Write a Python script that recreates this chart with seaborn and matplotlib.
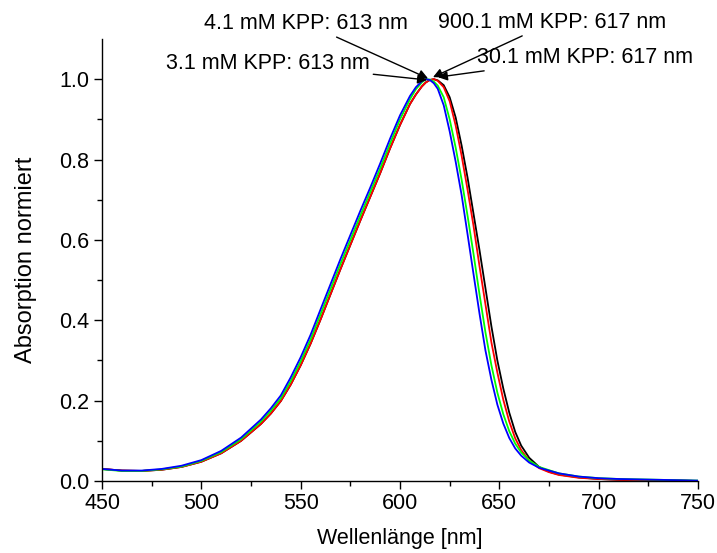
import numpy as np
import pandas as pd
import matplotlib
matplotlib.use("Agg")
import matplotlib.pyplot as plt
import seaborn as sns

wavelength = [450, 460, 470, 480, 490, 500, 510, 520, 530, 535, 540, 545, 550, 555, 560, 570,
              580, 585, 590, 595, 600, 605, 608, 611, 613, 615, 617, 619, 622, 625, 628,
              631, 634, 637, 640, 643, 646, 649, 652, 655, 658, 661, 665, 670, 675,
              680, 690, 700, 710, 720, 730, 740, 750]

abs_900_1 = [0.030, 0.026, 0.025, 0.028, 0.035, 0.048, 0.069, 0.100, 0.142, 0.168, 0.199,
             0.240, 0.288, 0.342, 0.402, 0.527, 0.648, 0.707, 0.766, 0.828, 0.886, 0.938,
             0.962, 0.982, 0.992, 0.998, 1.000, 0.997, 0.985, 0.955, 0.905, 0.835, 0.755,
             0.665, 0.575, 0.480, 0.385, 0.300, 0.230, 0.170, 0.122, 0.088, 0.058, 0.035,
             0.023, 0.016, 0.009, 0.005, 0.003, 0.002, 0.001, 0.001, 0.000]
abs_30_1 = [0.030, 0.026, 0.025, 0.028, 0.035, 0.048, 0.069, 0.100, 0.142, 0.168, 0.199,
            0.240, 0.288, 0.342, 0.402, 0.527, 0.648, 0.707, 0.766, 0.828, 0.886, 0.938,
            0.962, 0.982, 0.992, 0.998, 1.000, 0.996, 0.980, 0.945, 0.885, 0.810, 0.725,
            0.635, 0.535, 0.440, 0.345, 0.270, 0.202, 0.148, 0.106, 0.077, 0.051, 0.032,
            0.022, 0.015, 0.008, 0.005, 0.003, 0.002, 0.001, 0.001, 0.000]
abs_4_1 = [0.029, 0.025, 0.025, 0.029, 0.036, 0.050, 0.072, 0.104, 0.148, 0.175, 0.206,
           0.249, 0.298, 0.353, 0.415, 0.540, 0.660, 0.719, 0.778, 0.840, 0.900, 0.950,
           0.975, 0.992, 1.000, 0.999, 0.994, 0.984, 0.955, 0.900, 0.830, 0.750, 0.660,
           0.565, 0.465, 0.370, 0.288, 0.220, 0.166, 0.124, 0.093, 0.071, 0.051, 0.035,
           0.027, 0.019, 0.011, 0.007, 0.005, 0.004, 0.003, 0.002, 0.001]
abs_3_1 = [0.030, 0.026, 0.026, 0.030, 0.038, 0.052, 0.075, 0.108, 0.153, 0.181, 0.213,
           0.258, 0.308, 0.364, 0.427, 0.552, 0.672, 0.730, 0.790, 0.852, 0.910, 0.958,
           0.980, 0.995, 1.000, 0.998, 0.990, 0.976, 0.935, 0.870, 0.795, 0.712, 0.614,
           0.515, 0.417, 0.325, 0.252, 0.190, 0.143, 0.107, 0.081, 0.063, 0.046, 0.033,
           0.026, 0.019, 0.011, 0.007, 0.005, 0.004, 0.003, 0.002, 0.001]

series_names = ["900.1 mM KPP", "30.1 mM KPP", "4.1 mM KPP", "3.1 mM KPP"]
series_colors = ["black", "red", "#00ff00", "blue"]

frames = []
for name, vals in zip(series_names, [abs_900_1, abs_30_1, abs_4_1, abs_3_1]):
    frames.append(pd.DataFrame({"wl": wavelength, "A": vals, "series": name}))
df = pd.concat(frames, ignore_index=True)

sns.set_theme(style="ticks")
plt.rcParams['font.family'] = ['Liberation Sans', 'DejaVu Sans']
plt.rcParams['text.color'] = 'black'
plt.rcParams['axes.labelcolor'] = 'black'
plt.rcParams['xtick.color'] = 'black'
plt.rcParams['ytick.color'] = 'black'

fig = plt.figure(figsize=(7.17, 5.53), dpi=100)
ax = fig.add_axes([0.1423, 0.1302, 0.8312, 0.7993])

sns.lineplot(data=df, x="wl", y="A", hue="series", hue_order=series_names,
             palette=series_colors, linewidth=1.3, legend=False, ax=ax, sort=False)

ax.set_xlim(450, 750)
ax.set_ylim(0, 1.1)
ax.set_xticks([450, 500, 550, 600, 650, 700, 750])
ax.set_xticks(np.arange(475, 750, 50), minor=True)
ax.set_yticks([0.0, 0.2, 0.4, 0.6, 0.8, 1.0])
ax.set_yticks([0.1, 0.3, 0.5, 0.7, 0.9], minor=True)
ax.set_yticklabels(["0.0", "0.2", "0.4", "0.6", "0.8", "1.0"])
ax.tick_params(axis="both", which="major", direction="out", length=6, width=1,
               labelsize=15.5, colors="black", pad=3)
ax.tick_params(axis="both", which="minor", direction="out", length=3.5, width=1,
               colors="black")
for s in ["top", "right"]:
    ax.spines[s].set_visible(False)
for s in ["left", "bottom"]:
    ax.spines[s].set_linewidth(1.0)
    ax.spines[s].set_color("black")

ax.set_xlabel("Wellenlänge [nm]", fontsize=15.5, labelpad=10, color="black")
ax.set_ylabel("Absorption normiert", fontsize=17, labelpad=16, color="black")

ann_kw = dict(fontsize=15.5, ha="center", va="center", annotation_clip=False,
              color="black",
              arrowprops=dict(arrowstyle="-|>", color="black", lw=1.0,
                              mutation_scale=14, shrinkA=0, shrinkB=0))
ax.annotate("4.1 mM KPP: 613 nm", xy=(614.1, 1.002), xytext=(552.7, 1.139), **ann_kw)
ax.annotate("900.1 mM KPP: 617 nm", xy=(616.6, 1.005), xytext=(676.5, 1.142), **ann_kw)
ax.annotate("3.1 mM KPP: 613 nm", xy=(613.6, 0.998), xytext=(533.6, 1.040), **ann_kw)
ax.annotate("30.1 mM KPP: 617 nm", xy=(619.1, 1.005), xytext=(693.1, 1.055), **ann_kw)

fig.savefig("out.png", dpi=100)
